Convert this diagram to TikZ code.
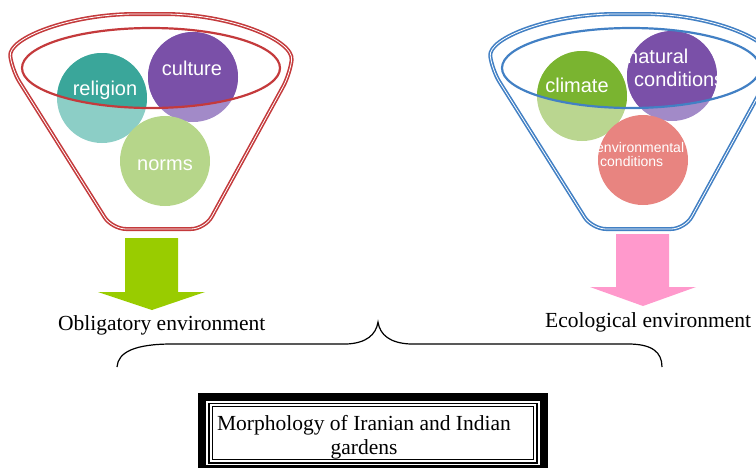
\documentclass[tikz,border=0pt]{standalone}
\usepackage{fontspec}
\setmainfont{Liberation Serif}
\newfontfamily\ballfont{Liberation Sans}
\definecolor{funnelred}{RGB}{196,58,60}
\definecolor{funnelblue}{RGB}{66,128,196}
\definecolor{tealdark}{RGB}{58,166,154}
\definecolor{teallight}{RGB}{140,206,198}
\definecolor{purpledark}{RGB}{122,80,168}
\definecolor{purplelight}{RGB}{162,138,200}
\definecolor{normgreen}{RGB}{182,214,138}
\definecolor{climgreen}{RGB}{122,180,48}
\definecolor{climlight}{RGB}{186,214,144}
\definecolor{salmon}{RGB}{232,132,128}
\definecolor{arrowgreen}{RGB}{153,204,0}
\definecolor{arrowpink}{RGB}{255,153,204}
\tikzset{
  funnelline/.style={line width=1.6pt, double=white, double distance=0.8pt, line join=round, rounded corners=14pt},
  rimline/.style={line width=2.2pt},
  ball/.style={circle, inner sep=0pt, minimum size=90pt},
  balltext/.style={text=white, font=\ballfont\fontsize{20}{23}\selectfont, inner sep=0pt, anchor=base},
  smalltext/.style={text=white, font=\ballfont\fontsize{14}{16}\selectfont, inner sep=0pt, anchor=base west},
  envlabel/.style={font=\fontsize{21.5}{24}\selectfont, inner sep=0pt, anchor=base west}
}

\begin{document}
\begin{tikzpicture}[x=1pt,y=-1pt]
\useasboundingbox (0,0) rectangle (756,467);
\clip (0,0) rectangle (756,467);
%balls
\node[ball, fill=teallight] (religion) at (102,98) {};
\node[ball, fill=purplelight] (culture) at (193,77) {};
\node[ball, fill=normgreen] (norms) at (165,161) {};
\node[ball, fill=climlight] (climate) at (582,96) {};
\node[ball, fill=purplelight] (natural) at (672,76) {};
\node[ball, fill=salmon] (environ) at (643,160) {};
%inside the rim
\begin{scope}
  \clip (151,68) ellipse (129pt and 40pt);
  \fill[tealdark] (religion.center) circle (45pt);
  \fill[purpledark] (culture.center) circle (45pt);
\end{scope}
\begin{scope}
  \clip (631,68) ellipse (129pt and 40pt);
  \fill[climgreen] (climate.center) circle (45pt);
  \fill[purpledark] (natural.center) circle (45pt);
\end{scope}
%labels
\node[balltext] (religion-t) at (105,95) {religion};
\node[balltext] (culture-t) at (192,75) {culture};
\node[balltext] (norms-t) at (165,170) {norms};
\node[balltext] (climate-t) at (577,92) {climate};
\begin{scope}
  \clip (627,31) rectangle (717,121);
  \node[balltext, anchor=base west] (natural-t) at (627,63) {natural};
  \node[balltext, anchor=base west] (cond-t) at (634,86) {conditions};
\end{scope}
\begin{scope}
  \clip (598,115) rectangle (688,205);
  \node[smalltext] (environ-t) at (596,152) {environmental};
  \node[smalltext] (cond2-t) at (600,166) {conditions};
\end{scope}
%funnels
\foreach \fx/\fcol in {0/funnelred,480/funnelblue}{
  \begin{scope}[xshift=\fx pt]
    \draw[funnelline, draw=\fcol] (160,229) -- (112,229) -- (12,70) .. controls (8,38) and (70,14) .. (150,14) .. controls (230,14) and (294,40) .. (290,74) -- (205,229) -- cycle;
    \draw[rimline, draw=\fcol] (151,68) ellipse (129pt and 40pt);
  \end{scope}
}
%arrows
\fill[arrowgreen] (125,238) -- (178,238) -- (178,292) -- (205,292) -- (152,310) -- (98,292) -- (125,292) -- cycle;
\fill[arrowpink] (616,234) -- (669,234) -- (669,287) -- (696,287) -- (643,306) -- (590,287) -- (616,287) -- cycle;
\node[envlabel] (oblig) at (58,330) {Obligatory environment};
\node[envlabel] (ecol) at (545,327) {Ecological environment};
%brace
\draw[line width=1.2pt] (117,367) .. controls (118,352) and (135,344) .. (172,344) -- (347,344) .. controls (366,343) and (376,335) .. (378,322) .. controls (380,335) and (390,343) .. (410,344) -- (628,344) .. controls (652,344) and (662,352) .. (662,367);
%box
\fill[black] (198,393) rectangle (548,470);
\fill[white] (206,401) rectangle (540,465);
\draw[line width=1.3pt] (209,403.5) rectangle (537,463);
\draw[line width=1pt] (212.5,406.5) rectangle (533.5,459.5);
\node[font=\fontsize{21.5}{24}\selectfont, align=center, inner sep=0pt] (morph) at (364,437) {Morphology of Iranian and Indian\\gardens};
\end{tikzpicture}
\end{document}
